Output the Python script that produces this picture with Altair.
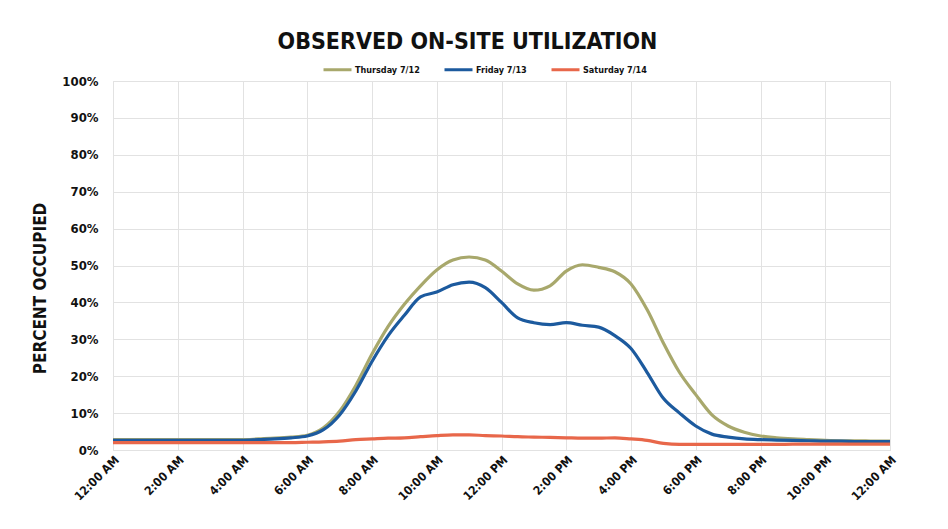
import altair as alt
import pandas as pd

hours = [i * 0.5 for i in range(49)]

thursday = [2.8, 2.8, 2.8, 2.8, 2.8, 2.8, 2.8, 2.8, 2.8, 3.0,
            3.2, 3.5, 4.0, 6.0, 10.5, 17.5, 26.0, 33.5, 39.5, 44.5,
            48.8, 51.5, 52.3, 51.5, 48.5, 45.0, 43.3, 44.5, 48.5, 50.2,
            49.5, 48.3, 45.0, 38.0, 29.0, 21.0, 15.0, 9.5, 6.5, 4.8,
            3.8, 3.3, 3.0, 2.8, 2.6, 2.5, 2.5, 2.4, 2.4]

friday = [2.6, 2.6, 2.6, 2.6, 2.6, 2.6, 2.6, 2.6, 2.6, 2.8,
          3.0, 3.3, 3.8, 5.5, 9.5, 16.0, 24.0, 31.0, 36.5, 41.5,
          42.8, 44.8, 45.5, 44.0, 40.0, 35.8, 34.5, 34.0, 34.5, 33.8,
          33.3, 31.0, 27.5, 21.0, 14.0, 10.0, 6.5, 4.3, 3.5, 3.0,
          2.8, 2.7, 2.6, 2.5, 2.4, 2.4, 2.3, 2.3, 2.3]

saturday = [2.0, 2.0, 2.0, 2.0, 2.0, 2.0, 2.0, 2.0, 2.0, 2.0,
            2.0, 2.0, 2.1, 2.2, 2.4, 2.8, 3.0, 3.2, 3.3, 3.6,
            3.9, 4.1, 4.1, 3.9, 3.8, 3.6, 3.5, 3.4, 3.3, 3.2,
            3.2, 3.3, 3.0, 2.6, 1.8, 1.5, 1.5, 1.5, 1.5, 1.5,
            1.5, 1.5, 1.6, 1.6, 1.6, 1.6, 1.6, 1.6, 1.6]

series_names = ["Thursday 7/12", "Friday 7/13", "Saturday 7/14"]
series_colors = ["#a8a86c", "#1c5a9e", "#e8674a"]

x_tick_labels = ["12:00 AM", "2:00 AM", "4:00 AM", "6:00 AM", "8:00 AM", "10:00 AM",
                 "12:00 PM", "2:00 PM", "4:00 PM", "6:00 PM", "8:00 PM", "10:00 PM", "12:00 AM"]

rows = []
for name, vals in zip(series_names, [thursday, friday, saturday]):
    for h, v in zip(hours, vals):
        rows.append({"hour": h, "pct": v / 100.0, "day": name})
df = pd.DataFrame(rows)

FONT = "DejaVu Sans Condensed, Liberation Sans Narrow, sans-serif"

label_arr = "[" + ",".join("'" + s + "'" for s in x_tick_labels) + "]"

chart = alt.Chart(df).mark_line(strokeWidth=3.2, interpolate="monotone").encode(
    x=alt.X("hour:Q",
            scale=alt.Scale(domain=[0, 24], nice=False),
            axis=alt.Axis(values=list(range(0, 25, 2)),
                          labelExpr=label_arr + "[round(datum.value/2)]",
                          labelAngle=-45, labelAlign="right", labelBaseline="top",
                          labelFont=FONT, labelFontWeight="bold", labelFontSize=12,
                          labelColor="#111", labelPadding=4,
                          ticks=False, domain=False, title=None,
                          grid=True, gridColor="#e2e2e2", labelFlush=False,
                          labelOverlap=False)),
    y=alt.Y("pct:Q",
            scale=alt.Scale(domain=[0, 1], nice=False),
            axis=alt.Axis(values=[i / 10 for i in range(11)], format=".0%",
                          labelFont=FONT, labelFontWeight="bold", labelFontSize=13,
                          labelColor="#111", labelPadding=15,
                          ticks=False, domain=False,
                          title="PERCENT OCCUPIED", titleFont=FONT, titleFontWeight="bold",
                          titleFontSize=17, titleColor="#111", titlePadding=12,
                          titleY=207,
                          grid=True, gridColor="#e2e2e2")),
    color=alt.Color("day:N",
                    scale=alt.Scale(domain=series_names, range=series_colors),
                    sort=series_names,
                    legend=alt.Legend(orient="none", legendX=209, legendY=-27,
                                      direction="horizontal", title=None,
                                      symbolType="stroke", symbolStrokeWidth=3,
                                      symbolSize=784, labelFont=FONT,
                                      labelFontWeight="bold", labelFontSize=9,
                                      labelColor="#111", labelOffset=2,
                                      columnPadding=18)),
).properties(
    width=777, height=369,
    title=alt.TitleParams("OBSERVED ON-SITE UTILIZATION", font=FONT, fontSize=23,
                          fontWeight="bold", color="#111", anchor="middle",
                          dx=-34, offset=0),
    autosize=alt.AutoSizeParams(type="none"),
    padding={"left": 105, "top": 73, "right": 50, "bottom": 70},
).configure_view(stroke="#e2e2e2").configure(background="white")

chart.save("out.html", embed_options={"renderer": "svg", "actions": False})
